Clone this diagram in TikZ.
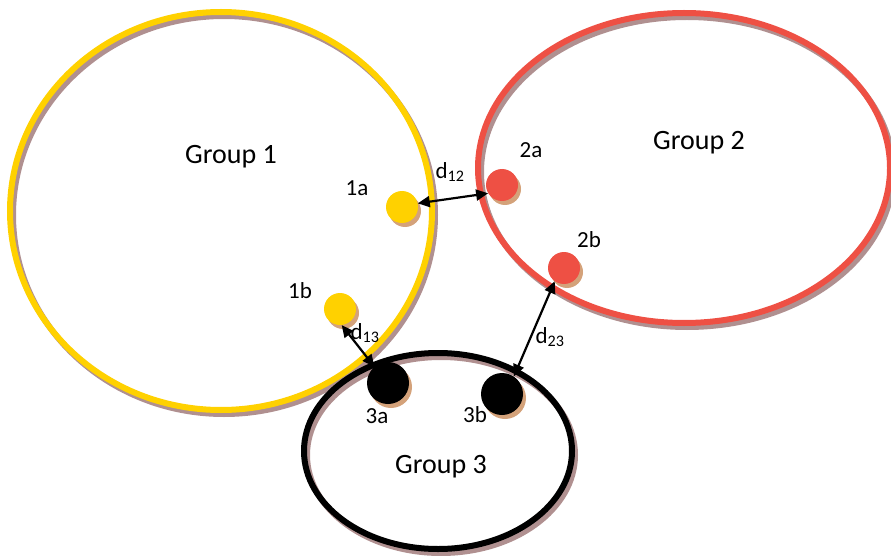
\documentclass[tikz,border=0pt]{standalone}
\usepackage{fontspec}
\setmainfont{Carlito}
\usetikzlibrary{arrows.meta}
\definecolor{gyellow}{HTML}{FFD100}
\definecolor{gred}{HTML}{EE5044}
\definecolor{eshadow}{HTML}{B09090}
\definecolor{dshadow}{HTML}{D4A27A}
\begin{document}
\begin{tikzpicture}[x=1pt,y=-1pt,
  grp/.style={line width=6pt},
  grpshadow/.style={line width=6pt, draw=eshadow},
  dotsm/.style={circle, minimum size=32pt, inner sep=0pt},
  dotbig/.style={circle, minimum size=42pt, inner sep=0pt},
  lbl/.style={font=\fontsize{23}{26}\selectfont},
  grplbl/.style={font=\fontsize{28}{32}\selectfont},
  dist/.style={line width=2.2pt, {Triangle[length=12pt,width=11pt]}-{Triangle[length=12pt,width=11pt]}}
]
\useasboundingbox (0,0) rectangle (891,556);
% group ellipses
\draw[grpshadow] (224,215) ellipse [x radius=211, y radius=199];
\draw[grp, draw=gyellow] (221,211) ellipse [x radius=211, y radius=199];
\draw[grpshadow] (687,172) ellipse [x radius=206, y radius=155];
\draw[grp, draw=gred] (684,168) ellipse [x radius=206, y radius=155];
\draw[grpshadow] (441,455) ellipse [x radius=134, y radius=98];
\draw[grp, draw=black] (438,451) ellipse [x radius=134, y radius=98];
% dot positions
\coordinate (p1a) at (402,207);
\coordinate (p1b) at (340,309);
\coordinate (p2a) at (502,185);
\coordinate (p2b) at (564,268);
\coordinate (p3a) at (388,383);
\coordinate (p3b) at (502,394);
% shadows
\fill[dshadow] ([shift={(3,4)}]p1a) circle (16);
\fill[dshadow] ([shift={(3,4)}]p1b) circle (16);
\fill[dshadow] ([shift={(3,4)}]p2a) circle (16);
\fill[dshadow] ([shift={(3,4)}]p2b) circle (16);
\fill[dshadow] ([shift={(3,4)}]p3a) circle (21);
\fill[dshadow] ([shift={(3,4)}]p3b) circle (21);
% dots
\node[dotsm, fill=gyellow] (d1a) at (p1a) {};
\node[dotsm, fill=gyellow] (d1b) at (p1b) {};
\node[dotsm, fill=gred] (d2a) at (p2a) {};
\node[dotsm, fill=gred] (d2b) at (p2b) {};
\node[dotbig, fill=black] (d3a) at (p3a) {};
\node[dotbig, fill=black] (d3b) at (p3b) {};
% distance arrows
\draw[dist] (d1a.13) -- (d2a.211);
\draw[dist] (d1b.276) -- (d3a.130);
\draw[dist] (d3b.56) -- (d2b.235);
% labels
\node[lbl] (l1a) at (357,188) {1a};
\node[lbl] (l1b) at (300,291) {1b};
\node[lbl] (l2a) at (531,150) {2a};
\node[lbl] (l2b) at (589,240) {2b};
\node[lbl] (l3a) at (377,416) {3a};
\node[lbl] (l3b) at (475,415) {3b};
\node[lbl] (l12) at (450,172) {d\textsubscript{12}};
\node[lbl] (l13) at (365,333) {d\textsubscript{13}};
\node[lbl] (l23) at (550,337) {d\textsubscript{23}};
\node[grplbl] (g1) at (231,157) {Group 1};
\node[grplbl] (g2) at (699,143) {Group 2};
\node[grplbl] (g3) at (441,467) {Group 3};
\end{tikzpicture}
\end{document}
